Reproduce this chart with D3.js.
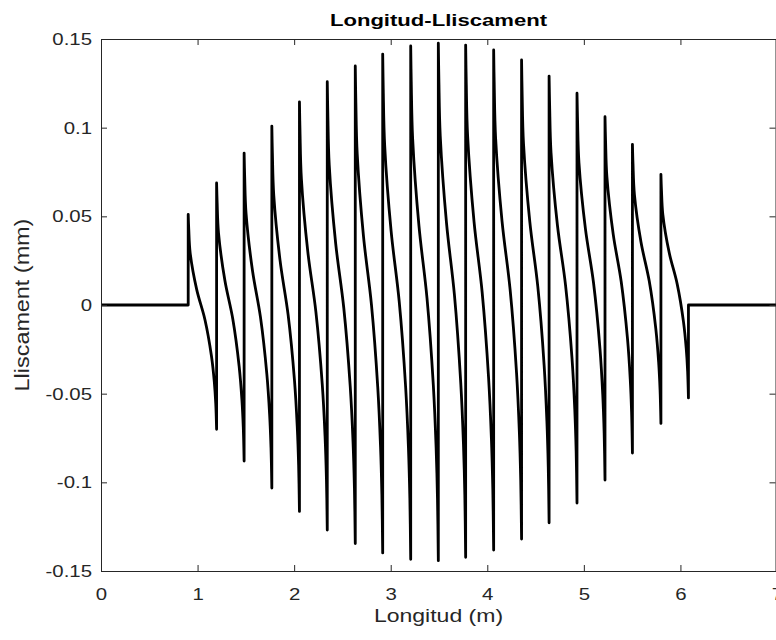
<!DOCTYPE html>
<html>
<head>
<meta charset="utf-8">
<script src="https://cdn.jsdelivr.net/npm/d3@7"></script>
<style>
  body { margin: 0; background: #fff; }
  text { font-family: "Liberation Sans", Arial, sans-serif; fill: #262626; }
</style>
</head>
<body>
<div id="chart"></div>
<script>
const width = 776;
const height = 640;

// x (m) where each tooth starts (its peak) — the next entry is where it ends (its trough)
const toothEdges = [0.903, 1.197, 1.482, 1.769, 2.055, 2.343, 2.633, 2.917, 3.207, 3.493,
                    3.776, 4.066, 4.355, 4.640, 4.929, 5.219, 5.503, 5.798, 6.083];
const peakValues = [0.0511, 0.0688, 0.0857, 0.1009, 0.1146, 0.1259, 0.1348, 0.1415, 0.1461,
                    0.1476, 0.1466, 0.1438, 0.1382, 0.1291, 0.1194, 0.1062, 0.0906, 0.0737];
const troughValues = [-0.0701, -0.0880, -0.1032, -0.1164, -0.1269, -0.1345, -0.1398, -0.1434, -0.1442,
                      -0.1423, -0.1382, -0.1320, -0.1228, -0.1117, -0.0987, -0.0835, -0.0668, -0.0524];
// shape of one tooth (fraction along x, fraction of the drop)
const shapeT = [0, 0.02, 0.07, 0.3, 0.59, 0.82, 0.92, 0.97, 1];
const shapeF = [0, 0.07, 0.18, 0.35, 0.49, 0.66, 0.78, 0.88, 1];

const xTicks = [0, 1, 2, 3, 4, 5, 6, 7];
const yTicks = [-0.15, -0.1, -0.05, 0, 0.05, 0.1, 0.15];
const xDomain = [0, 7];
const yDomain = [-0.15, 0.15];

const plotLeft = 101, plotRight = 777, plotTop = 39, plotBottom = 571;
const axisColor = '#262626';

const svg = d3.select('#chart')
  .append('svg')
    .attr('width', width)
    .attr('height', height);

const x = d3.scaleLinear().domain(xDomain).range([plotLeft, plotRight]);
const y = d3.scaleLinear().domain(yDomain).range([plotBottom, plotTop]);

// build the slip curve
const toothLine = d3.line()
  .x(d => x(d[0]))
  .y(d => y(d[1]))
  .curve(d3.curveCatmullRom.alpha(0.5));

let pathStr = `M${x(xDomain[0])},${y(0)}L${x(toothEdges[0])},${y(0)}`;
for (let i = 0; i < peakValues.length; i++) {
  const x0 = toothEdges[i], x1 = toothEdges[i + 1];
  const pts = shapeT.map((t, j) => [
    x0 + t * (x1 - x0),
    peakValues[i] + shapeF[j] * (troughValues[i] - peakValues[i])
  ]);
  pathStr += 'L' + toothLine(pts).slice(1);
}
pathStr += `L${x(toothEdges[toothEdges.length - 1])},${y(0)}L${x(xDomain[1])},${y(0)}`;

svg.append('path')
  .attr('d', pathStr)
  .attr('fill', 'none')
  .attr('stroke', '#000')
  .attr('stroke-width', 2.8)
  .attr('stroke-linejoin', 'round');

// axes, matlab style: ticks inside, box all round
const fmt = d => d === 0 ? '0' : String(d);
const sx = 1.2;

const bottomAxis = svg.append('g')
  .attr('transform', `translate(0,${plotBottom})`)
  .call(d3.axisBottom(x).tickValues(xTicks).tickSize(-6).tickSizeOuter(0).tickPadding(17).tickFormat(fmt));
const topAxis = svg.append('g')
  .attr('transform', `translate(0,${plotTop})`)
  .call(d3.axisTop(x).tickValues(xTicks).tickSize(-6).tickSizeOuter(0).tickFormat(''));
const leftAxis = svg.append('g')
  .attr('transform', `translate(${plotLeft},0)`)
  .call(d3.axisLeft(y).tickValues(yTicks).tickSize(-6).tickSizeOuter(0).tickPadding(9).tickFormat(fmt));
const rightAxis = svg.append('g')
  .attr('transform', `translate(${Math.min(x(7), 775.5)},0)`)
  .call(d3.axisRight(y).tickValues(yTicks).tickSize(-6).tickSizeOuter(0).tickFormat(''));

svg.selectAll('.domain, .tick line').attr('stroke', axisColor);
svg.selectAll('.tick text')
  .attr('font-size', 17)
  .attr('fill', axisColor)
  .style('font-family', '"Liberation Sans", Arial, sans-serif');
bottomAxis.selectAll('.tick text')
  .attr('transform', `scale(${sx},1)`);
leftAxis.selectAll('.tick text')
  .attr('x', -9 / sx)
  .attr('transform', `scale(${sx},1)`);

// title and labels
svg.append('text')
  .attr('transform', `translate(${(plotLeft + 776) / 2},26) scale(1.3,1)`)
  .attr('text-anchor', 'middle')
  .attr('font-size', 17)
  .attr('font-weight', 'bold')
  .style('fill', '#000')
  .text('Longitud-Lliscament');

svg.append('text')
  .attr('transform', `translate(${(plotLeft + 776) / 2},622) scale(1.28,1)`)
  .attr('text-anchor', 'middle')
  .attr('font-size', 18)
  .text('Longitud (m)');

svg.append('text')
  .attr('transform', `translate(29,${(plotTop + plotBottom) / 2}) rotate(-90) scale(1.3,1.1)`)
  .attr('text-anchor', 'middle')
  .attr('font-size', 18)
  .text('Lliscament (mm)');
</script>
</body>
</html>
